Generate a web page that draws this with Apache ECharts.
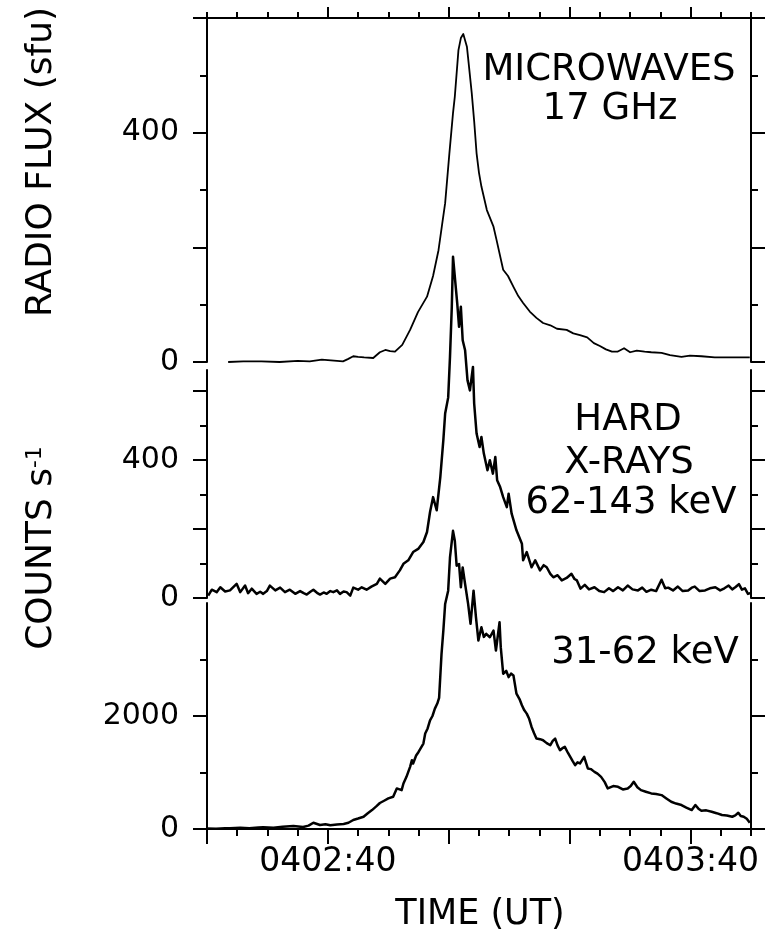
<!DOCTYPE html>
<html>
<head>
<meta charset="utf-8">
<script src="https://cdn.jsdelivr.net/npm/echarts@6/dist/echarts.min.js"></script>
<style>
html, body { margin: 0; padding: 0; background: #fff; }
#chart { width: 771px; height: 939px; }
</style>
</head>
<body>
<div id="chart"></div>
<script>
// Time is counted in seconds after 04:02:00 UT.
const timeRange = [20, 110];
const timeMajor = [40, 60, 80, 100];
const timeMinor = [20, 25, 30, 35, 45, 50, 55, 65, 70, 75, 85, 90, 95, 105, 110];
const timeLabelValues = [40, 100];
const timeLabelText = { 40: '0402:40', 100: '0403:40' };

// Microwave flux at 17 GHz (sfu)
const mwTime = [23.5, 26, 29, 32, 35, 37, 39, 40.5, 42.5, 43.3, 44.2, 45, 46, 47.5, 48.6, 49.5, 50.3, 51.1, 52.3, 53.6,
  54.9, 56.4, 57.4, 58.3, 58.9, 59.4, 60.1, 60.7, 61.0, 61.6, 62.0, 62.4, 63.0, 63.3, 63.8, 64.2, 64.6, 65.0, 65.4, 66.3,
  67.4, 67.9, 69.0, 69.8, 70.7, 71.5, 72.3, 73.4, 74.5, 75.6, 76.8, 77.9, 79.5, 80.6, 81.7, 82.9, 84.0, 85.0, 86.0, 87.0,
  87.9, 89.0, 90.0, 91.1, 92.4, 93.5, 95.2, 96.6, 98.5, 99.9, 101.8, 104.0, 106.3, 108.2, 109.8];
const mwFlux = [0, 1, 1, 0, 2, 1, 4, 3, 1, 5, 10, 9, 8, 7, 17, 21, 19, 18, 30, 56,
  87, 114, 150, 195, 240, 277, 364, 434, 463, 544, 565, 572, 550, 520, 469, 420, 364, 330, 306, 265,
  236, 213, 161, 150, 131, 115, 103, 88, 77, 68, 64, 58, 56, 50, 47, 43, 33, 28, 22, 18,
  18, 24, 17, 20, 18, 17, 16, 12, 9, 11, 10, 8, 8, 8, 8];

// Hard X-rays, 62-143 keV (counts/s)
const hxrTime = [20.2, 20.8, 21.6, 22.2, 23.0, 23.8, 24.9, 25.5, 26.3, 26.8,
  27.4, 28.2, 28.8, 29.3, 29.9, 30.4, 31.3, 32.1, 32.9, 33.7,
  34.6, 35.4, 36.0, 36.5, 37.1, 37.6, 38.2, 38.7, 39.3, 39.8,
  40.4, 40.9, 41.5, 42.0, 42.6, 43.1, 43.7, 44.2, 45.0, 45.6,
  46.4, 47.2, 48.1, 48.6, 49.5, 50.3, 51.1, 51.9, 52.5, 53.3,
  54.1, 55.0, 55.8, 56.4, 56.9, 57.4, 58.0, 58.6, 59.1, 59.4,
  59.9, 60.2, 60.5, 60.7, 61.2, 61.4, 61.7, 62.0, 62.3, 62.7,
  63.1, 63.5, 64.0, 64.2, 64.6, 65.1, 65.4, 65.8, 66.4, 66.8,
  67.3, 67.7, 68.0, 68.5, 69.0, 69.6, 69.9, 70.4, 71.2, 72.1,
  72.3, 72.9, 73.7, 74.3, 75.1, 75.7, 76.2, 76.8, 77.3, 78.0,
  78.7, 79.5, 80.3, 80.8, 81.2, 81.8, 82.5, 83.2, 84.1, 84.9,
  85.7, 86.5, 87.2, 88.0, 88.8, 89.6, 90.4, 91.3, 92.0, 92.7,
  93.5, 94.3, 95.2, 95.8, 96.3, 97.1, 97.9, 98.7, 99.6, 100.2,
  100.7, 101.5, 102.4, 103.2, 104.1, 104.9, 105.6, 106.3, 106.9, 107.4,
  108.0, 108.5, 109.0, 109.5, 110.0];
const hxrCounts = [7, 24, 17, 31, 19, 22, 41, 17, 36, 14,
  27, 12, 18, 12, 20, 36, 22, 30, 17, 24,
  12, 20, 14, 10, 18, 24, 15, 10, 16, 12,
  20, 17, 22, 12, 19, 17, 7, 30, 24, 31,
  24, 33, 41, 56, 41, 56, 60, 80, 99, 109,
  133, 143, 162, 191, 249, 292, 254, 350, 457, 534,
  580, 698, 843, 988, 891, 853, 785, 843, 746, 717,
  630, 601, 669, 563, 476, 437, 466, 418, 370, 399,
  360, 408, 341, 321, 292, 263, 302, 244, 196, 157,
  109, 133, 89, 109, 80, 95, 89, 70, 60, 66,
  51, 58, 70, 55, 51, 27, 38, 25, 31, 20,
  17, 28, 20, 31, 22, 36, 25, 22, 30, 18,
  24, 20, 53, 28, 30, 22, 33, 20, 22, 30,
  33, 20, 22, 28, 31, 22, 28, 36, 25, 31,
  40, 24, 28, 12, 15];

// Hard X-rays, 31-62 keV (counts/s)
const lxrTime = [20.0, 21.5, 23.0, 23.8, 25.5, 27.0, 28.5, 29.3, 31.0, 32.5,
  34.3, 35.9, 36.8, 37.6, 38.7, 39.6, 40.4, 41.5, 42.6, 43.4,
  44.2, 45.0, 45.9, 46.6, 47.3, 48.0, 48.6, 49.3, 50.0, 50.8,
  51.4, 52.2, 52.5, 53.0, 53.6, 53.9, 54.1, 54.6, 55.0, 55.8,
  56.1, 56.5, 56.9, 57.3, 57.7, 58.1, 58.4, 58.8, 59.1, 59.4,
  59.9, 60.2, 60.7, 61.0, 61.3, 61.7, 62.0, 62.3, 62.7, 63.2,
  63.6, 64.1, 64.5, 64.9, 65.4, 65.8, 66.2, 66.8, 67.4, 67.8,
  68.4, 68.6, 69.0, 69.5, 69.9, 70.3, 70.7, 71.2, 71.7, 72.1,
  72.5, 72.9, 73.3, 73.7, 74.1, 74.5, 75.1, 75.6, 76.2, 76.8,
  77.2, 77.6, 78.0, 78.4, 78.8, 79.2, 79.7, 80.1, 80.5, 80.9,
  81.3, 81.7, 82.4, 83.0, 83.5, 84.1, 84.6, 85.2, 85.8, 86.3,
  87.2, 88.0, 88.8, 89.6, 90.1, 90.6, 91.2, 91.8, 92.6, 93.5,
  94.3, 95.2, 96.0, 96.8, 97.6, 98.5, 99.3, 100.2, 100.8, 101.3,
  101.8, 102.6, 103.5, 104.3, 105.2, 106.0, 106.9, 107.4, 107.9, 108.3,
  108.8, 109.3, 109.8];
const lxrCounts = [10, 5, 15, 12, 20, 15, 25, 30, 22, 40,
  53, 35, 60, 111, 71, 85, 65, 80, 88, 110,
  159, 185, 217, 280, 335, 400, 460, 500, 541, 570,
  718, 688, 806, 923, 1100, 1218, 1160, 1300, 1364, 1512,
  1689, 1780, 1924, 2000, 2130, 2220, 2320, 3100, 3512, 3984,
  4218, 4806, 5277, 5101, 4660, 4689, 4277, 4630, 4336, 3984,
  3631, 4218, 3747, 3336, 3571, 3400, 3454, 3394, 3512, 3159,
  3659, 3218, 2748, 2800, 2688, 2750, 2718, 2395, 2300, 2189,
  2100, 2042, 1950, 1806, 1700, 1601, 1590, 1571, 1520, 1483,
  1560, 1601, 1480, 1394, 1430, 1453, 1350, 1276, 1200, 1130,
  1180, 1160, 1276, 1071, 1060, 1011, 980, 923, 830, 718,
  760, 747, 700, 718, 760, 835, 740, 688, 660, 630,
  620, 600, 540, 482, 450, 424, 380, 335, 424, 360,
  323, 330, 305, 280, 247, 240, 217, 240, 288, 230,
  217, 180, 111];

// Vertical scales of the three panels
const mwRange = [0, 600];
const mwMajor = [0, 200, 400, 600];
const mwMinor = [100, 300, 500];
const mwLabels = [0, 400];
const hxrRange = [0, 660];
const hxrMajor = [0, 200, 400, 600];
const hxrMinor = [100, 300, 500];
const hxrLabels = [0, 400];
const lxrRange = [0, 4000];
const lxrMajor = [0, 2000];
const lxrMinor = [1000, 3000];
const lxrLabels = [0, 2000];

const INK = '#000';
const FONT = 'DejaVu Sans';
const pairs = (ts, vs) => ts.map((t, i) => [t, vs[i]]);
const inkLine = { color: INK, width: 2 };

// Four vertical axes per panel: long and short ticks on the left and on the right.
function panelAxes(gridIndex, range, major, minor, labels) {
  const base = { type: 'value', gridIndex, min: range[0], max: range[1], splitLine: { show: false } };
  const longAxis = (position, withLabels) => Object.assign({}, base, {
    position,
    axisLine: { show: true, onZero: false, lineStyle: inkLine },
    axisTick: { show: true, inside: false, length: 14, customValues: major, lineStyle: inkLine },
    axisLabel: withLabels
      ? { show: true, customValues: labels, margin: 28, fontFamily: FONT, fontSize: 30, color: INK,
          formatter: (v) => String(v) }
      : { show: false }
  });
  const shortAxis = (position) => Object.assign({}, base, {
    position,
    axisLine: { show: false, onZero: false },
    axisTick: { show: true, inside: false, length: 7, customValues: minor, lineStyle: inkLine },
    axisLabel: { show: false }
  });
  return [longAxis('left', true), shortAxis('left'), longAxis('right', false), shortAxis('right')];
}

const gridLeft = 207, gridWidth = 544;
const grids = [
  { left: gridLeft, width: gridWidth, top: 18, height: 344 },
  { left: gridLeft, width: gridWidth, top: 370, height: 228 },
  { left: gridLeft, width: gridWidth, top: 603, height: 226 }
];

const timeBase = { type: 'value', min: timeRange[0], max: timeRange[1], splitLine: { show: false } };
const xAxes = [
  Object.assign({}, timeBase, {
    gridIndex: 0, position: 'top',
    axisLine: { show: true, onZero: false, lineStyle: inkLine },
    axisTick: { show: true, length: 11, customValues: timeMajor, lineStyle: inkLine },
    axisLabel: { show: false }
  }),
  Object.assign({}, timeBase, {
    gridIndex: 0, position: 'top',
    axisLine: { show: false, onZero: false },
    axisTick: { show: true, length: 6, customValues: timeMinor, lineStyle: inkLine },
    axisLabel: { show: false }
  }),
  Object.assign({}, timeBase, { gridIndex: 1, show: false }),
  Object.assign({}, timeBase, {
    gridIndex: 2, position: 'bottom',
    axisLine: { show: true, onZero: false, lineStyle: inkLine },
    axisTick: { show: true, length: 15, customValues: [20].concat(timeMajor), lineStyle: inkLine },
    axisLabel: {
      show: true, customValues: timeLabelValues, margin: 17,
      fontFamily: FONT, fontSize: 33, color: INK,
      formatter: (v) => timeLabelText[v] || ''
    }
  }),
  Object.assign({}, timeBase, {
    gridIndex: 2, position: 'bottom',
    axisLine: { show: false, onZero: false },
    axisTick: { show: true, length: 7, customValues: timeMinor.filter(v => v !== 20), lineStyle: inkLine },
    axisLabel: { show: false }
  })
];

const yAxes = []
  .concat(panelAxes(0, mwRange, mwMajor, mwMinor, mwLabels))
  .concat(panelAxes(1, hxrRange, hxrMajor, hxrMinor, hxrLabels))
  .concat(panelAxes(2, lxrRange, lxrMajor, lxrMinor, lxrLabels));

const curve = (name, xi, yi, data, width) => ({
  name, type: 'line', xAxisIndex: xi, yAxisIndex: yi, data,
  showSymbol: false, symbol: 'none', clip: false, silent: true,
  lineStyle: { color: INK, width, join: 'round' }
});

const textEl = (text, x, y, size, extra) => Object.assign({
  type: 'text', x, y, silent: true,
  style: {
    text, fill: INK, fontFamily: FONT, fontSize: size,
    align: 'center', verticalAlign: 'middle', textAlign: 'center', textVerticalAlign: 'middle'
  }
}, extra || {});

const chart = echarts.init(document.getElementById('chart'), null, { renderer: 'canvas' });
chart.setOption({
  animation: false,
  backgroundColor: '#fff',
  grid: grids,
  xAxis: xAxes,
  yAxis: yAxes,
  series: [
    curve('17 GHz', 0, 0, pairs(mwTime, mwFlux), 1.8),
    curve('62-143 keV', 2, 4, pairs(hxrTime, hxrCounts), 2.5),
    curve('31-62 keV', 3, 8, pairs(lxrTime, lxrCounts), 2.5)
  ],
  graphic: [
    textEl('MICROWAVES', 609, 70, 37),
    textEl('17 GHz', 610, 109, 37),
    textEl('HARD', 628, 420, 37),
    textEl('X-RAYS', 629, 463, 37),
    textEl('62-143 keV', 631, 503, 37),
    textEl('31-62 keV', 645, 653, 37),
    textEl('TIME (UT)', 480, 915, 35),
    textEl('RADIO FLUX (sfu)', 42, 162, 36, { rotation: Math.PI / 2 }),
    {
      type: 'text', x: 42, y: 548, rotation: Math.PI / 2, silent: true,
      style: {
        text: 'COUNTS s{sup|-1}', fill: INK, fontFamily: FONT, fontSize: 36,
        align: 'center', verticalAlign: 'middle', textAlign: 'center', textVerticalAlign: 'middle',
        rich: { sup: { fontSize: 22, fontFamily: FONT, fill: INK, verticalAlign: 'top' } }
      }
    }
  ]
});
</script>
</body>
</html>
